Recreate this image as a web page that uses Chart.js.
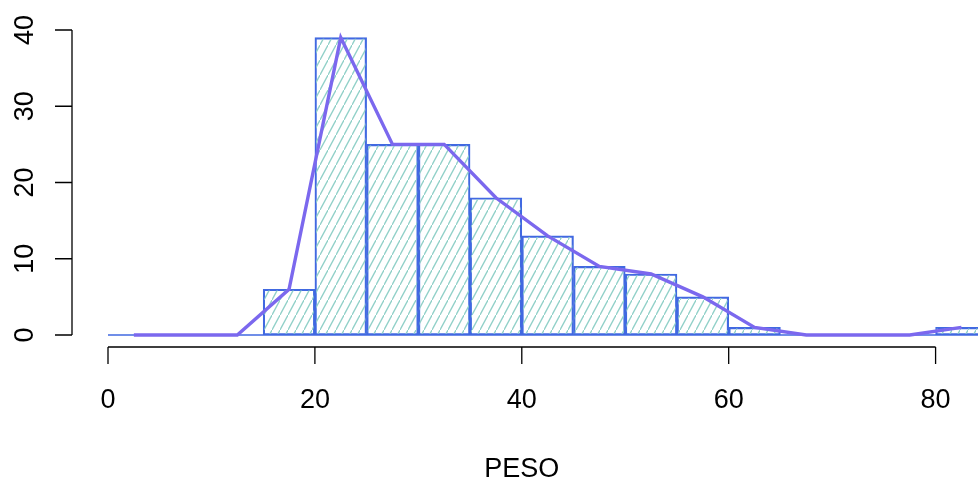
<!DOCTYPE html>
<html lang="es">
<head>
<meta charset="UTF-8">
<title>PESO</title>
<script src="https://cdn.jsdelivr.net/npm/chart.js@4.4.0/dist/chart.umd.min.js"></script>
<style>
    body { margin: 0; padding: 0; background: #fff; }
    #wrap { width: 978px; height: 483px; position: relative; }
</style>
</head>
<body>
<div id="wrap"><canvas id="hist"></canvas></div>
<script>
// histogram bins (width 5) and counts
const binMids = [2.5, 7.5, 12.5, 17.5, 22.5, 27.5, 32.5, 37.5, 42.5, 47.5, 52.5, 57.5, 62.5, 67.5, 72.5, 77.5, 82.5];
const counts  = [0,   0,   0,    6,    39,   25,   25,   18,   13,   9,    8,    5,    1,    0,    0,    0,    1];
const xTicks = [0, 20, 40, 60, 80];
const yTicks = [0, 10, 20, 30, 40];
const xTitle = 'PESO';

const font = '"Liberation Sans", Arial, sans-serif';

function hatchPattern() {
    const w = 8, h = 15;
    const c = document.createElement('canvas');
    c.width = w; c.height = h;
    const g = c.getContext('2d');
    g.strokeStyle = '#90d0c8';
    g.lineWidth = 1.3;
    g.beginPath();
    g.moveTo(-w, 2 * h);
    g.lineTo(2 * w, -h);
    g.stroke();
    return g.createPattern(c, 'repeat');
}

// R-style detached axes
const axesPlugin = {
    id: 'rAxes',
    afterDraw(chart) {
        const ctx = chart.ctx;
        const xs = chart.scales.x, ys = chart.scales.y;
        const y0 = ys.getPixelForValue(0);
        const axY = y0 + 12;
        const axX = 72;
        ctx.save();
        ctx.strokeStyle = '#000';
        ctx.lineWidth = 1.3;
        ctx.fillStyle = '#000';
        ctx.font = '27px ' + font;

        // x axis
        ctx.beginPath();
        ctx.moveTo(xs.getPixelForValue(xTicks[0]), axY);
        ctx.lineTo(xs.getPixelForValue(xTicks[xTicks.length - 1]), axY);
        xTicks.forEach(v => {
            const px = xs.getPixelForValue(v);
            ctx.moveTo(px, axY);
            ctx.lineTo(px, axY + 17);
        });
        ctx.stroke();
        ctx.textAlign = 'center';
        ctx.textBaseline = 'alphabetic';
        xTicks.forEach(v => ctx.fillText(String(v), xs.getPixelForValue(v), 408));

        // y axis
        ctx.beginPath();
        ctx.moveTo(axX, ys.getPixelForValue(yTicks[0]));
        ctx.lineTo(axX, ys.getPixelForValue(yTicks[yTicks.length - 1]));
        yTicks.forEach(v => {
            const py = ys.getPixelForValue(v);
            ctx.moveTo(axX, py);
            ctx.lineTo(axX - 17, py);
        });
        ctx.stroke();
        yTicks.forEach(v => {
            ctx.save();
            ctx.translate(33, ys.getPixelForValue(v));
            ctx.rotate(-Math.PI / 2);
            ctx.fillText(String(v), 0, 0);
            ctx.restore();
        });

        // title
        ctx.fillText(xTitle, (xs.getPixelForValue(0) + xs.getPixelForValue(80)) / 2, 477);
        ctx.restore();
    }
};

const ctx = document.getElementById('hist').getContext('2d');
new Chart(ctx, {
    data: {
        datasets: [
            {
                type: 'line',
                data: [{ x: binMids[0] - 2.5, y: 0 }, { x: binMids[binMids.length - 1] + 2.5, y: 0 }],
                borderColor: '#4169e1',
                borderWidth: 1.5,
                pointRadius: 0,
                clip: false,
                order: 3
            },
            {
                type: 'bar',
                data: binMids.map((m, i) => ({ x: m, y: counts[i] })),
                backgroundColor: hatchPattern(),
                borderColor: '#4169e1',
                borderWidth: 1.5,
                borderSkipped: false,
                barPercentage: 1,
                categoryPercentage: 1,
                order: 2
            },
            {
                type: 'line',
                data: binMids.map((m, i) => ({ x: m, y: counts[i] })),
                borderColor: '#7b68ee',
                borderWidth: 3.4,
                pointRadius: 0,
                tension: 0,
                clip: { left: 5, top: 5, right: 0, bottom: 5 },
                order: 1
            }
        ]
    },
    options: {
        responsive: true,
        maintainAspectRatio: false,
        animation: false,
        layout: { padding: { left: 108, right: 0, top: 30, bottom: 148 } },
        plugins: { legend: { display: false }, tooltip: { enabled: false } },
        scales: {
            x: { type: 'linear', min: 0, max: 84.1, offset: false, display: false },
            y: { min: 0, max: 40, display: false }
        }
    },
    plugins: [axesPlugin]
});
</script>
</body>
</html>
